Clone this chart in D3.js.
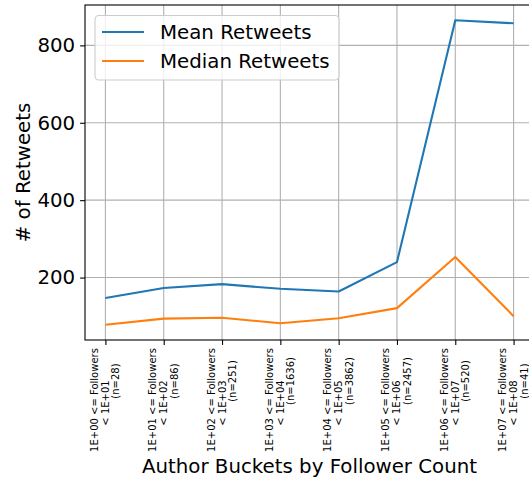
<!DOCTYPE html>
<html>
<head>
<meta charset="utf-8">
<script src="https://cdn.jsdelivr.net/npm/d3@7"></script>
<style>
  html, body { margin: 0; padding: 0; background: #fff; }
  svg { display: block; font-family: "DejaVu Sans", sans-serif; }
</style>
</head>
<body>
<svg id="chart" width="529" height="481"></svg>
<script>
// Follower-count buckets (log-decade boundaries) and tweet counts per bucket
const lowerBounds = ["1E+00", "1E+01", "1E+02", "1E+03", "1E+04", "1E+05", "1E+06", "1E+07"];
const upperBounds = ["1E+01", "1E+02", "1E+03", "1E+04", "1E+05", "1E+06", "1E+07", "1E+08"];
const bucketCounts = [28, 86, 251, 1636, 3862, 2457, 520, 41];

// Retweet statistics per bucket
const meanRetweets = [147, 173, 183, 171, 164, 240, 865, 857];
const medianRetweets = [78, 94, 96, 82, 95, 121, 253, 100];

const yTicks = [200, 400, 600, 800];
const seriesNames = ["Mean Retweets", "Median Retweets"];
const seriesColors = ["#1f77b4", "#ff7f0e"];

const svg = d3.select("#chart");
const plotLeft = 85, plotRight = 534, plotTop = 5, plotBottom = 340;
const bigFont = "19.8px";

const allVals = meanRetweets.concat(medianRetweets);
const yMin = d3.min(allVals), yMax = d3.max(allVals);
const yPad = (yMax - yMin) * 0.05;
const n = lowerBounds.length;
const xPad = (n - 1) * 0.05;

const x = d3.scaleLinear().domain([-xPad, n - 1 + xPad]).range([plotLeft, plotRight]);
const y = d3.scaleLinear().domain([yMin - yPad, yMax + yPad]).range([plotBottom, plotTop]);

const plot = svg.append("g");

// grid
plot.append("g").selectAll("line").data(d3.range(n)).join("line")
  .attr("x1", d => x(d)).attr("x2", d => x(d))
  .attr("y1", plotTop).attr("y2", plotBottom)
  .attr("stroke", "#b0b0b0").attr("stroke-width", 1.1);
plot.append("g").selectAll("line").data(yTicks).join("line")
  .attr("x1", plotLeft).attr("x2", plotRight)
  .attr("y1", d => y(d)).attr("y2", d => y(d))
  .attr("stroke", "#b0b0b0").attr("stroke-width", 1.1);

// series lines
const line = d3.line().x((d, i) => x(i)).y(d => y(d));
[meanRetweets, medianRetweets].forEach((s, k) => {
  plot.append("path").datum(s)
    .attr("d", line)
    .attr("fill", "none")
    .attr("stroke", seriesColors[k])
    .attr("stroke-width", 2.1)
    .attr("stroke-linejoin", "round");
});

// spines
svg.append("rect")
  .attr("x", plotLeft).attr("y", plotTop)
  .attr("width", plotRight - plotLeft).attr("height", plotBottom - plotTop)
  .attr("fill", "none").attr("stroke", "#000").attr("stroke-width", 1.1);

// y axis
const yAxis = d3.axisLeft(y).tickValues(yTicks).tickSize(4.9).tickPadding(4.9);
const gy = svg.append("g").attr("transform", `translate(${plotLeft},0)`).call(yAxis);
gy.select(".domain").remove();
gy.selectAll("line").attr("stroke", "#000").attr("stroke-width", 1.1);
gy.selectAll("text").attr("font-size", bigFont).attr("fill", "#000")
  .attr("font-family", "DejaVu Sans");

// x axis ticks
const xAxis = d3.axisBottom(x).tickValues(d3.range(n)).tickSize(4.9).tickFormat("");
const gx = svg.append("g").attr("transform", `translate(0,${plotBottom})`).call(xAxis);
gx.select(".domain").remove();
gx.selectAll("line").attr("stroke", "#000").attr("stroke-width", 1.1);

// rotated multi-line bucket labels
const lab = svg.append("g").selectAll("g").data(d3.range(n)).join("g")
  .attr("font-size", "10px").attr("fill", "#000");
lab.each(function (i) {
  const g = d3.select(this);
  const lines = [
    { t: `${lowerBounds[i]} <= Followers`, dx: -11, c: 400 },
    { t: `< ${upperBounds[i]}`, dx: 0, c: 403 },
    { t: `(n=${bucketCounts[i]})`, dx: 10.5, c: 381 }
  ];
  lines.forEach(l => {
    g.append("text")
      .attr("transform", `translate(${x(i) + l.dx},${l.c}) rotate(-90)`)
      .attr("text-anchor", "middle")
      .attr("dominant-baseline", "central")
      .text(l.t);
  });
});

// axis titles
svg.append("text")
  .attr("x", (plotLeft + plotRight) / 2).attr("y", 473)
  .attr("text-anchor", "middle").attr("font-size", bigFont)
  .text("Author Buckets by Follower Count");
svg.append("text")
  .attr("transform", `translate(30,${(plotTop + plotBottom) / 2}) rotate(-90)`)
  .attr("text-anchor", "middle").attr("font-size", bigFont)
  .text("# of Retweets");

// legend
const leg = svg.append("g");
leg.append("rect")
  .attr("x", 95).attr("y", 15.5).attr("width", 244).attr("height", 64.5)
  .attr("rx", 4).attr("fill", "#fff").attr("fill-opacity", 0.8)
  .attr("stroke", "#cccccc").attr("stroke-width", 1.1);
seriesNames.forEach((name, k) => {
  const yy = 32 + k * 29;
  leg.append("line").attr("x1", 102).attr("x2", 144).attr("y1", yy).attr("y2", yy)
    .attr("stroke", seriesColors[k]).attr("stroke-width", 2.1);
  leg.append("text").attr("x", 160).attr("y", yy)
    .attr("dominant-baseline", "central").attr("font-size", bigFont)
    .text(name);
});
</script>
</body>
</html>
